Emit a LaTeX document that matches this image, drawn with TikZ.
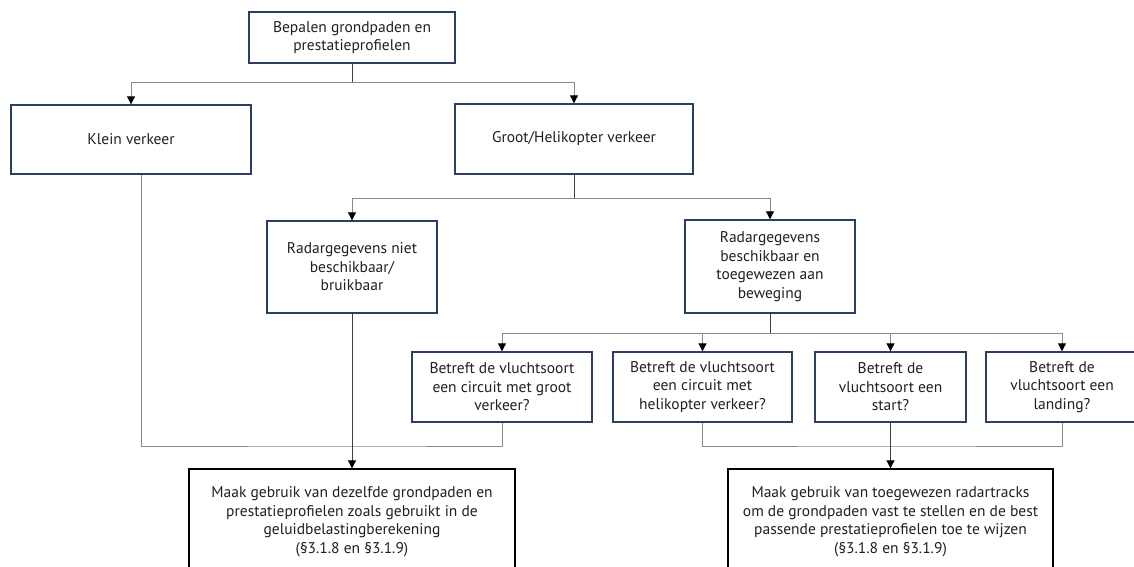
\documentclass[tikz,border=0pt]{standalone}
\usepackage{fontspec}
\setmainfont{PT Sans}
\usetikzlibrary{arrows.meta}

\definecolor{boxblue}{HTML}{2B3F63}
\definecolor{stemgray}{HTML}{3F3F3F}
\definecolor{branchgray}{HTML}{8A8A8A}
\definecolor{textgray}{HTML}{231F20}

\tikzset{
  stepbox/.style={draw=boxblue, line width=1.4pt, align=center, inner sep=0pt,
    text=textgray, font=\fontsize{15.5}{18.5}\selectfont},
  endbox/.style={stepbox, draw=black},
  stem/.style={draw=stemgray, line width=1pt},
  branch/.style={draw=branchgray, line width=1pt},
  arrowed/.style={-{Triangle[length=8pt,width=8pt,color=black]}}
}

\begin{document}
\begin{tikzpicture}[x=1pt,y=-1pt]
  \fill[white] (0,0) rectangle (1134,567);
  \useasboundingbox (0,0) rectangle (1134,567);

  \node[stepbox, minimum width=206pt, minimum height=51pt] (bepalen) at (352,37.5) {Bepalen grondpaden en\\prestatieprofielen};
  \node[stepbox, minimum width=240pt, minimum height=69pt] (klein) at (131,139.5) {Klein verkeer};
  \node[stepbox, minimum width=238pt, minimum height=70pt] (groot) at (574,139) {Groot/Helikopter verkeer};
  \node[stepbox, minimum width=170pt, minimum height=92pt] (niet) at (352,267) {Radargegevens niet\\beschikbaar/\\bruikbaar};
  \node[stepbox, minimum width=170pt, minimum height=93pt] (wel) at (770,266.5) {Radargegevens\\beschikbaar en\\toegewezen aan\\beweging};

  \node[stepbox, minimum width=180pt, minimum height=70pt] (circuitgroot) at (502,387) {Betreft de vluchtsoort\\een circuit met groot\\verkeer?};
  \node[stepbox, minimum width=179pt, minimum height=70pt] (circuitheli) at (702.5,387) {Betreft de vluchtsoort\\een circuit met\\helikopter verkeer?};
  \node[stepbox, minimum width=151pt, minimum height=70pt] (start) at (890.5,387) {Betreft de\\vluchtsoort een\\start?};
  \node[stepbox, minimum width=152pt, minimum height=70pt] (landing) at (1062,387) {Betreft de\\vluchtsoort een\\landing?};

  \node[endbox, minimum width=326pt, minimum height=105pt] (eindlinks) at (352,521.5) {Maak gebruik van dezelfde grondpaden en\\prestatieprofielen zoals gebruikt in de\\geluidbelastingberekening\\(§3.1.8 en §3.1.9)};
  \node[endbox, minimum width=325pt, minimum height=105pt] (eindrechts) at (890.5,521.5) {Maak gebruik van toegewezen radartracks\\om de grondpaden vast te stellen en de best\\passende prestatieprofielen toe te wijzen\\(§3.1.8 en §3.1.9)};

  \coordinate (splitA) at (352,83);
  \coordinate (splitB) at (574,198);
  \coordinate (splitC) at (770,333);
  \coordinate (mergeL) at (352,446);
  \coordinate (mergeR) at (890.5,446);

  \draw[stem] (bepalen) -- (splitA);
  \draw[branch,arrowed] (splitA) -| (klein);
  \draw[branch,arrowed] (splitA) -| (groot);

  \draw[stem] (groot) -- (splitB);
  \draw[branch,arrowed] (splitB) -| (niet);
  \draw[branch,arrowed] (splitB) -| (wel);

  \draw[stem] (wel) -- (splitC);
  \foreach \b in {circuitgroot,circuitheli,start,landing}
    \draw[branch,arrowed] (splitC) -| (\b);

  \draw[branch] ([xshift=10pt]klein.south) |- (mergeL) -| (circuitgroot);
  \draw[stem,arrowed] (niet) -- (eindlinks);

  \draw[branch] (circuitheli) |- (mergeR) -| (landing);
  \draw[stem,arrowed] (start) -- (eindrechts);
\end{tikzpicture}
\end{document}
